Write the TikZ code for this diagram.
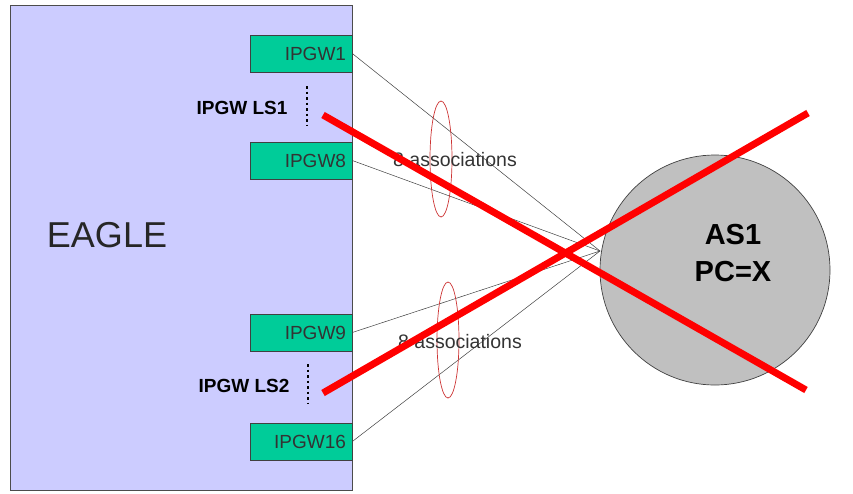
\documentclass[tikz,border=0pt]{standalone}
\usepackage{fontspec}
\setmainfont{Liberation Sans}
\usetikzlibrary{positioning}
\definecolor{eaglefill}{RGB}{204,204,255}
\definecolor{gwfill}{RGB}{0,204,153}
\definecolor{asfill}{RGB}{192,192,192}
\definecolor{ringred}{RGB}{204,51,51}
\tikzset{
  %% EAGLE frame
  frame/.style={
    rectangle, draw=black!70, fill=eaglefill,
    minimum width=342pt, minimum height=485pt,
    line width=0.8pt
  },
  %% IPGW card
  gwbox/.style={
    rectangle, draw=black!75, fill=gwfill,
    minimum height=37pt, text width=90pt, inner xsep=6pt,
    align=right, font=\fontsize{19}{21}\selectfont,
    text=black!80, line width=0.6pt
  },
  %% Linkset label
  lslabel/.style={font=\fontsize{19}{21}\selectfont\bfseries, anchor=east},
  %% Association line
  assoc/.style={draw=black!75, line width=0.5pt},
  %% Dotted linkset mark
  lsdots/.style={draw=black, line width=1.6pt, dash pattern=on 2.5pt off 3pt},
  %% Association ring
  ring/.style={draw=ringred, line width=0.7pt},
  %% Red cross
  cross/.style={draw=red, line width=7pt},
}
\begin{document}
\begin{tikzpicture}[x=1pt, y=-1pt]
  \useasboundingbox (0,0) rectangle (853,493);

  \node[frame] (eagle) at (181,247.5) {};
  \node[font=\fontsize{36}{40}\selectfont, text=black!85] (eaglelbl) at (107,235) {EAGLE};

  \node[gwbox] (gw1)  at (301,53.5)  {IPGW1};
  \node[gwbox] (gw8)  at (301,160.5) {IPGW8};
  \node[gwbox] (gw9)  at (301,332.5) {IPGW9};
  \node[gwbox] (gw16) at (301,441.5) {IPGW16};

  \node[lslabel] (ls1) at (291,108) {IPGW LS1};
  \node[lslabel] (ls2) at (293,386) {IPGW LS2};
  \draw[lsdots] (307,86) -- (307,126);
  \draw[lsdots] (308,364) -- (308,404);

  \node[circle, draw=black!75, fill=asfill, minimum size=230pt,
        line width=0.7pt] (as1) at (715,270) {};
  \node[align=center, font=\fontsize{29}{37}\selectfont\bfseries]
       (as1lbl) at (733,253) {AS1\\PC=X};

  %% Associations
  \coordinate (hub) at (600,251);
  \foreach \g in {gw1, gw8, gw9, gw16}
    \draw[assoc] (\g.east) -- (hub);

  \draw[ring] (441,159) ellipse [x radius=11, y radius=58];
  \draw[ring] (448,340) ellipse [x radius=11, y radius=58];
  \node[font=\fontsize{19.5}{21}\selectfont, text=black!80] (as8a) at (455,160) {8 associations};
  \node[font=\fontsize{19.5}{21}\selectfont, text=black!80] (as8b) at (460,342) {8 associations};

  %% Cross
  \draw[cross] (323,115) -- (806,390);
  \draw[cross] (323,393) -- (808,113);
\end{tikzpicture}
\end{document}
